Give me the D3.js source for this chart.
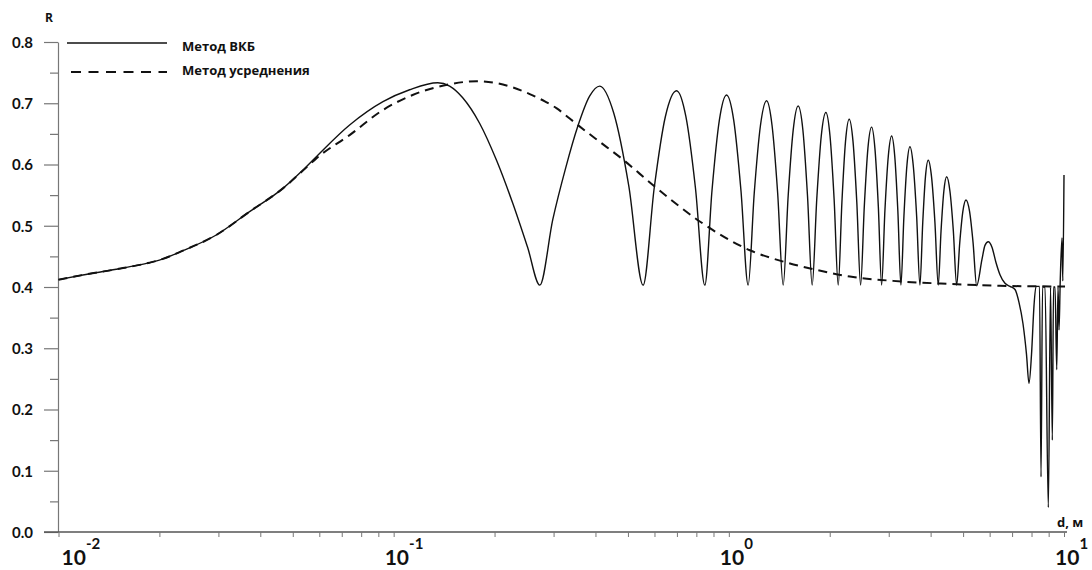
<!DOCTYPE html>
<html><head><meta charset="utf-8">
<script src="https://cdn.jsdelivr.net/npm/d3@7"></script>
<style>
html,body{margin:0;padding:0;background:#fff;}
svg{display:block;}
</style></head>
<body>
<svg id="chart" width="1092" height="570"></svg>
<script>
// ---- data ----
const seriesNames = ["Метод ВКБ", "Метод усреднения"];
const wkbD = [0.01,0.01182,0.01487,0.01868,0.02,0.0235,0.02956,0.03716,0.04672,0.05361,0.05878,0.07389,0.09292,0.1116,0.1353,0.1469,0.1607,0.1806,0.2030,0.2265,0.2512,0.2729,0.2983,0.3262,0.3541,0.3846,0.4120,0.4535,0.5029,0.5549,0.5990,0.6465,0.6983,0.7446,0.7949,0.8479,0.8909,0.9368,0.9843,1.0343,1.0867,1.1419,1.1908,1.2426,1.2961,1.3457,1.3985,1.4527,1.5034,1.5560,1.6100,1.6634,1.7168,1.7727,1.8298,1.8873,1.9478,2.0036,2.0609,2.1201,2.1746,2.2291,2.2862,2.3468,2.4088,2.4726,2.5364,2.5999,2.6668,2.7280,2.7925,2.8566,2.9221,2.9912,3.0599,3.1258,3.1931,3.2617,3.3298,3.3991,3.4699,3.5494,3.6334,3.7169,3.7891,3.8601,3.9351,4.0253,4.1205,4.2151,4.2968,4.3803,4.4656,4.5679,4.6759,4.7833,4.8864,4.9916,5.0990,5.2269,5.3541,5.4880,5.6917,5.8104,5.9436,6.0969,6.2668,6.4416,6.6668,6.8999,7.1411,7.3402,7.5448,7.7287,7.8626,8.0000,8.1387,8.2514,8.4525,8.5400,8.6286,8.7780,8.9793,9.1161,9.2295,9.3062,9.4025,9.5131,9.5985,9.6646,9.7447,9.8635,9.9179,10.0];
const wkbR = [0.412,0.4196,0.4289,0.4397,0.444,0.4593,0.4849,0.523,0.561,0.591,0.6128,0.6645,0.7026,0.722,0.7335,0.728,0.709,0.667,0.606,0.537,0.464,0.403,0.51,0.595,0.662,0.712,0.728,0.684,0.565,0.403,0.562,0.678,0.7205,0.678,0.562,0.403,0.558,0.672,0.7135,0.672,0.558,0.403,0.5535,0.6637,0.704,0.6637,0.5535,0.403,0.549,0.656,0.6955,0.656,0.549,0.403,0.544,0.647,0.685,0.647,0.544,0.403,0.5385,0.6377,0.674,0.6377,0.5385,0.403,0.532,0.6264,0.661,0.6264,0.532,0.403,0.5248,0.6139,0.6465,0.6139,0.5248,0.403,0.516,0.5987,0.629,0.5987,0.516,0.403,0.505,0.5797,0.607,0.5797,0.505,0.403,0.4915,0.5563,0.580,0.5563,0.4915,0.403,0.4725,0.5234,0.542,0.5234,0.4725,0.402,0.445,0.468,0.474,0.465,0.44,0.42,0.406,0.401,0.396,0.375,0.34,0.29,0.2427,0.29,0.37,0.401,0.401,0.09,0.40,0.40,0.04,0.40,0.15,0.40,0.40,0.265,0.40,0.33,0.41,0.48,0.41,0.583];
const avgD = [0.01,0.01182,0.01487,0.01868,0.02,0.0235,0.02956,0.03716,0.04672,0.05361,0.05878,0.07389,0.09292,0.1139,0.1469,0.1769,0.2030,0.2265,0.2547,0.2825,0.3059,0.3352,0.3760,0.4120,0.4783,0.6012,0.8193,1.1554,1.4870,1.8272,2.2973,3.0873,4.5679,6.4416,9.0849,10.07];
const avgR = [0.412,0.4196,0.4289,0.4397,0.444,0.4593,0.4849,0.523,0.561,0.590,0.610,0.648,0.689,0.7135,0.731,0.736,0.733,0.726,0.715,0.703,0.692,0.675,0.6535,0.637,0.61,0.564,0.507,0.460,0.44,0.428,0.417,0.41,0.405,0.402,0.401,0.401];
const yMajorTicks = [0,0.1,0.2,0.3,0.4,0.5,0.6,0.7,0.8];
const yMinorTicks = [0.05,0.15,0.25,0.35,0.45,0.55,0.65,0.75];
const xDecades = [0.01,0.1,1,10];
const xDecadeExp = ["-2","-1","0","1"];
const xMinorTicks = [0.01,0.02,0.03,0.04,0.05,0.06,0.07,0.08,0.09,0.1,0.2,0.3,0.4,0.5,0.6,0.7,0.8,0.9,1,2,3,4,5,6,7,8,9,10];
const yTitle = "R";
const xTitle = "d, м";

// ---- drawing ----
const svg = d3.select("#chart");
const x = d3.scaleLog().domain([0.01, 10]).range([58.5, 1064]);
const y = d3.scaleLinear().domain([0, 0.8]).range([532, 42]);
const ink = "#111";
const numFont = "Lato, 'Open Sans', sans-serif";
const txtFont = "'Open Sans', 'DejaVu Sans', sans-serif";

// y axis
const yAxis = d3.axisLeft(y).tickValues(yMajorTicks).tickSize(14).tickSizeOuter(0)
  .tickPadding(11).tickFormat(d3.format(".1f"));
const gy = svg.append("g").attr("transform","translate(58,0)").call(yAxis);
gy.select(".domain").attr("stroke","#777").attr("stroke-width",1.2);
gy.selectAll(".tick line").attr("stroke","#777").attr("stroke-width",1.2);
gy.selectAll(".tick text").attr("font-family",numFont).attr("font-weight","bold")
  .attr("font-size",15).attr("fill",ink).attr("dy","0.36em");
const yMinor = d3.axisLeft(y).tickValues(yMinorTicks).tickSize(8).tickSizeOuter(0).tickFormat("");
const gym = svg.append("g").attr("transform","translate(58,0)").call(yMinor);
gym.select(".domain").remove();
gym.selectAll(".tick line").attr("stroke","#777").attr("stroke-width",1.2);

// x axis
svg.append("line").attr("x1",44).attr("x2",1067).attr("y1",532).attr("y2",532)
  .attr("stroke","#555").attr("stroke-width",1.3);
const xAxis = d3.axisBottom(x).tickValues(xMinorTicks).tickSize(5).tickSizeOuter(0).tickFormat("");
const gx = svg.append("g").attr("transform","translate(0,532)").call(xAxis);
gx.select(".domain").remove();
gx.selectAll(".tick line").attr("stroke","#777").attr("stroke-width",1);

// decade labels 10^n
xDecades.forEach((d,i)=>{
  const px = x(d);
  const left = i === 0 ? px + 3 : px - 9;
  const t = svg.append("text").attr("x",left).attr("y",565)
    .attr("font-family",numFont).attr("font-weight","bold").attr("font-size",21).attr("fill",ink);
  t.append("tspan").text("10");
  t.append("tspan").attr("dy",-16).attr("dx",0).attr("font-size",15).text(xDecadeExp[i]);
});

// titles
svg.append("text").attr("x",49).attr("y",22).attr("text-anchor","middle")
  .attr("font-family",txtFont).attr("font-weight","bold").attr("font-size",12).attr("fill",ink).text(yTitle);
svg.append("text").attr("x",1057).attr("y",527)
  .attr("font-family",txtFont).attr("font-weight","bold").attr("font-size",13).attr("fill",ink).text(xTitle);

// curves
const line = d3.line().x(p=>x(p[0])).y(p=>y(p[1])).curve(d3.curveMonotoneX);
const avgData = avgD.map((d,i)=>[d, avgR[i]]);
const wkbData = wkbD.map((d,i)=>[d, wkbR[i]]);
svg.append("path").datum(avgData).attr("d",line).attr("fill","none")
  .attr("stroke",ink).attr("stroke-width",2).attr("stroke-dasharray","9,6");
svg.append("path").datum(wkbData).attr("d",line).attr("fill","none")
  .attr("stroke",ink).attr("stroke-width",1.4).attr("stroke-linejoin","round");

// legend
const lg = svg.append("g");
lg.append("line").attr("x1",67).attr("x2",167).attr("y1",43).attr("y2",43)
  .attr("stroke",ink).attr("stroke-width",1.5);
lg.append("line").attr("x1",71).attr("x2",167).attr("y1",72).attr("y2",72)
  .attr("stroke",ink).attr("stroke-width",2).attr("stroke-dasharray","10,7.5");
lg.append("text").attr("x",182).attr("y",51).attr("font-family",txtFont).attr("font-weight","bold")
  .attr("font-size",13).attr("fill",ink).text(seriesNames[0]);
lg.append("text").attr("x",182).attr("y",75).attr("font-family",txtFont).attr("font-weight","bold")
  .attr("font-size",13).attr("fill",ink).text(seriesNames[1]);
</script>
</body></html>
